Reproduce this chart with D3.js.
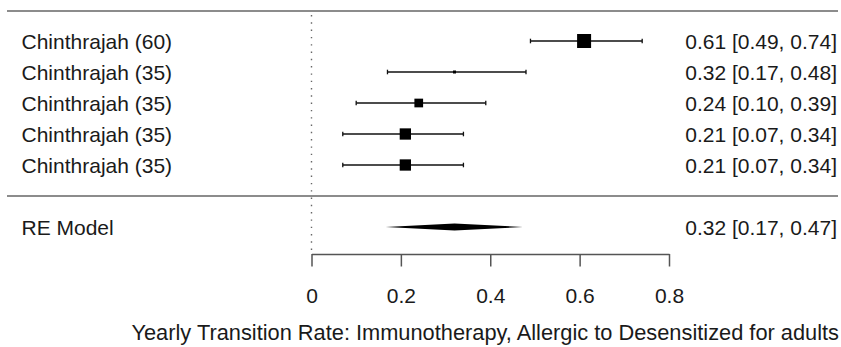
<!DOCTYPE html>
<html>
<head>
<meta charset="utf-8">
<script src="https://cdn.jsdelivr.net/npm/d3@7"></script>
<style>
  html, body { margin: 0; padding: 0; background: #fff; }
  svg text { font-family: "Liberation Sans", Arial, sans-serif; fill: #1a1a1a; }
</style>
</head>
<body>
<div id="chart"></div>
<script>
// study rows
const studies = ["Chinthrajah (60)", "Chinthrajah (35)", "Chinthrajah (35)", "Chinthrajah (35)", "Chinthrajah (35)"];
const estimates = [0.61, 0.32, 0.24, 0.21, 0.21];
const lowers = [0.49, 0.17, 0.10, 0.07, 0.07];
const uppers = [0.74, 0.48, 0.39, 0.34, 0.34];
const weights = [25.0, 14.0, 19.7, 22.3, 22.3];

// summary
const summaryLabel = "RE Model";
const summaryEstimate = 0.32;
const summaryLower = 0.166;
const summaryUpper = 0.473;

const xTicks = [0, 0.2, 0.4, 0.6, 0.8];
const xLabel = "Yearly Transition Rate: Immunotherapy, Allergic to Desensitized for adults";

const width = 841, height = 347;
const fontSize = 21;
const fmt = d3.format(".2f");

const svg = d3.select("#chart").append("svg")
    .attr("width", width)
    .attr("height", height);

const x = d3.scaleLinear().domain([0, 0.8]).range([311.5, 669]);
// row index -> y; summary sits at index 6, separator at 5
const y = d3.scaleLinear().domain([0, 6]).range([41, 227]);
const size = d3.scaleLinear().domain(d3.extent(weights)).range([3, 14]);

// horizontal rules
svg.append("line")
    .attr("x1", 7).attr("x2", 838)
    .attr("y1", y(-1) + 1).attr("y2", y(-1) + 1)
    .attr("stroke", "#8c8c8c").attr("stroke-width", 2);
svg.append("line")
    .attr("x1", 7).attr("x2", 838)
    .attr("y1", y(5)).attr("y2", y(5))
    .attr("stroke", "#8c8c8c").attr("stroke-width", 2);

// reference line at 0
svg.append("line")
    .attr("x1", x(0)).attr("x2", x(0))
    .attr("y1", 15).attr("y2", 252)
    .attr("stroke", "#666")
    .attr("stroke-width", 1.4)
    .attr("stroke-dasharray", "1.4,5.9");

const rows = svg.append("g").selectAll("g")
    .data(studies.map((s, i) => ({ label: s, est: estimates[i], lo: lowers[i], hi: uppers[i], w: weights[i], i: i })))
    .enter().append("g");

rows.append("line")
    .attr("x1", d => x(d.lo)).attr("x2", d => x(d.hi))
    .attr("y1", d => y(d.i)).attr("y2", d => y(d.i))
    .attr("stroke", "#111").attr("stroke-width", 1.3);

rows.selectAll(".cap")
    .data(d => [{ v: d.lo, i: d.i }, { v: d.hi, i: d.i }])
    .enter().append("line")
    .attr("class", "cap")
    .attr("x1", d => x(d.v)).attr("x2", d => x(d.v))
    .attr("y1", d => y(d.i) - 2.3).attr("y2", d => y(d.i) + 2.3)
    .attr("stroke", "#111").attr("stroke-width", 1.3);

rows.append("rect")
    .attr("x", d => x(d.est) - size(d.w) / 2)
    .attr("y", d => y(d.i) - size(d.w) / 2)
    .attr("width", d => size(d.w))
    .attr("height", d => size(d.w))
    .attr("fill", "#000");

rows.append("text")
    .attr("x", 21.5)
    .attr("y", d => y(d.i) + 7.5)
    .style("font-size", fontSize + "px")
    .text(d => d.label);

rows.append("text")
    .attr("x", 837)
    .attr("y", d => y(d.i) + 7.5)
    .attr("text-anchor", "end")
    .style("font-size", fontSize + "px")
    .text(d => fmt(d.est) + " [" + fmt(d.lo) + ", " + fmt(d.hi) + "]");

// summary diamond
const sy = y(6);
svg.append("polygon")
    .attr("points", [
        [x(summaryLower), sy],
        [x(summaryEstimate), sy - 3.6],
        [x(summaryUpper), sy],
        [x(summaryEstimate), sy + 3.6]
    ].map(p => p.join(",")).join(" "))
    .attr("fill", "#000");

svg.append("text")
    .attr("x", 21.5)
    .attr("y", sy + 7.5)
    .style("font-size", fontSize + "px")
    .text(summaryLabel);

svg.append("text")
    .attr("x", 837)
    .attr("y", sy + 7.5)
    .attr("text-anchor", "end")
    .style("font-size", fontSize + "px")
    .text(fmt(summaryEstimate) + " [" + fmt(summaryLower) + ", " + fmt(summaryUpper) + "]");

// x axis
const xAxis = d3.axisBottom(x)
    .tickValues(xTicks)
    .tickFormat(d => d === 0 ? "0" : d3.format(".1f")(d))
    .tickSizeInner(12.5)
    .tickSizeOuter(0)
    .tickPadding(22);

const axisG = svg.append("g")
    .attr("class", "axis xaxis")
    .attr("transform", "translate(0,254)")
    .call(xAxis);
axisG.select(".domain").attr("stroke", "#555").attr("stroke-width", 1.5);
axisG.selectAll(".tick line").attr("stroke", "#555").attr("stroke-width", 1.5);
axisG.selectAll(".tick text")
    .style("font-size", fontSize + "px")
    .style("font-family", "\"Liberation Sans\", Arial, sans-serif")
    .attr("fill", "#1a1a1a");

// axis title runs right up to the edge
svg.append("text")
    .attr("class", "xlabel")
    .attr("x", 839)
    .attr("y", 340)
    .attr("text-anchor", "end")
    .style("font-size", "21.8px")
    .text(xLabel);
</script>
</body>
</html>
